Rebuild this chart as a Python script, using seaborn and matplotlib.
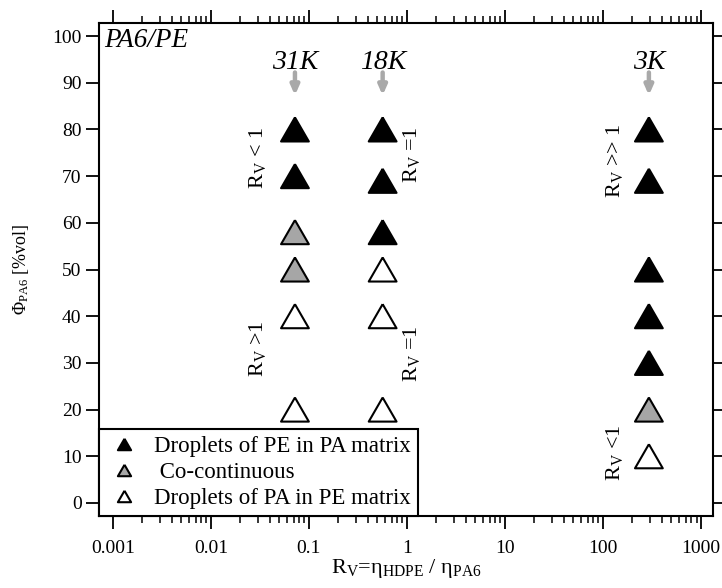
import numpy as np
import pandas as pd
import matplotlib
matplotlib.use("Agg")
import matplotlib.pyplot as plt
from matplotlib.lines import Line2D
from matplotlib.ticker import FixedLocator
import seaborn as sns

# Blend series: viscosity ratio of each PE grade and the PA6 volume fractions
grades = ["31K", "18K", "3K"]
ratio = [0.072, 0.565, 294.0]
phi_31k = [80, 70, 58, 50, 40, 20]
morph_31k = ["pe", "pe", "co", "co", "pa", "pa"]
phi_18k = [80, 69, 58, 50, 40, 20]
morph_18k = ["pe", "pe", "pe", "pa", "pa", "pa"]
phi_3k = [80, 69, 50, 40, 30, 20, 10]
morph_3k = ["pe", "pe", "pe", "pe", "pe", "co", "pa"]

morph_labels = {"pe": "Droplets of PE in PA matrix",
                "co": " Co-continuous",
                "pa": "Droplets of PA in PE matrix"}
morph_colors = {"pe": "black", "co": "#a6a6a6", "pa": "white"}

rows = []
for g, r, phis, morphs in zip(grades, ratio,
                              [phi_31k, phi_18k, phi_3k],
                              [morph_31k, morph_18k, morph_3k]):
    for p, m in zip(phis, morphs):
        rows.append({"grade": g, "ratio": r, "phi": p, "morph": m})
df = pd.DataFrame(rows)

sns.set_theme(style="ticks")
plt.rcParams["font.family"] = ["Liberation Serif", "DejaVu Serif"]
plt.rcParams["mathtext.fontset"] = "custom"
plt.rcParams["mathtext.rm"] = "Liberation Serif"
plt.rcParams["mathtext.it"] = "Liberation Serif:italic"
plt.rcParams["mathtext.bf"] = "Liberation Serif:bold"
for key in ["text.color", "axes.labelcolor", "xtick.color", "ytick.color",
            "axes.edgecolor"]:
    plt.rcParams[key] = "black"

fig = plt.figure(figsize=(7.22, 5.88), dpi=100)
ax = fig.add_axes([0.137, 0.1224, 0.8505, 0.8385])

# equilateral triangle marker (closed path)
tri = [(0, 0.866), (-1, -0.866), (1, -0.866), (0, 0.866)]

sns.scatterplot(data=df, x="ratio", y="phi", hue="morph", palette=morph_colors,
                marker=tri, s=400, edgecolor="black", linewidth=1.5,
                legend=False, ax=ax, zorder=3)

ax.set_xscale("log")
ax.set_xlim(0.00072, 1325)
ax.set_ylim(-2.8, 102.8)
ax.set_yticks(np.arange(0, 101, 10))
ax.set_xticks([0.001, 0.01, 0.1, 1, 10, 100, 1000])
ax.set_xticklabels(["0.001", "0.01", "0.1", "1", "10", "100", "1000"])
minors = [m * 10.0 ** e for e in range(-3, 3) for m in range(2, 10)]
ax.xaxis.set_minor_locator(FixedLocator(minors))

for s in ax.spines.values():
    s.set_linewidth(1.5)
    s.set_color("black")
ax.tick_params(axis="both", which="major", direction="out", length=9.5, width=1.3,
               labelsize=14, colors="black",
               top=True, right=True, labeltop=False, labelright=False)
ax.tick_params(axis="x", which="major", pad=8)
ax.tick_params(axis="y", which="major", pad=3)
ax.tick_params(axis="x", which="minor", direction="out", length=5, width=1.1,
               top=True, bottom=True)
ax.tick_params(axis="y", which="minor", left=False, right=False)

ax.set_xlabel(r"R$_\mathrm{V}$=η$_\mathrm{HDPE}$ / η$_\mathrm{PA6}$",
              fontsize=16, labelpad=0)
ax.set_ylabel(r"Φ$_\mathrm{PA6}$ [%vol]", fontsize=13, labelpad=15)

# Grade labels with arrows
for g, r in zip(grades, ratio):
    ax.text(r, 94.3, g, style="italic", fontsize=20, ha="center", va="center")
    ax.annotate("", xy=(r, 87.3), xytext=(r, 92.2),
                arrowprops=dict(arrowstyle="-|>,head_length=0.45,head_width=0.2",
                                color="#a9a9a9", lw=3.2, shrinkA=0, shrinkB=0))

ax.text(0.00082, 99.0, "PA6/PE", style="italic", fontsize=19.5, ha="left", va="center")

# Regime annotations
notes = [(0.030, 74, r"R$_\mathrm{V}$ < 1"),
         (0.030, 33, r"R$_\mathrm{V}$ >1"),
         (1.12, 74.5, r"R$_\mathrm{V}$ =1"),
         (1.12, 32, r"R$_\mathrm{V}$ =1"),
         (132, 73.4, r"R$_\mathrm{V}$ >> 1"),
         (132, 10.7, r"R$_\mathrm{V}$ <1")]
for x, y, t in notes:
    ax.text(x, y, t, rotation=90, fontsize=16, ha="center", va="center")

handles = [Line2D([], [], linestyle="none", marker=tri, markersize=9.5,
                  markerfacecolor=morph_colors[k], markeredgecolor="black",
                  markeredgewidth=1.5)
           for k in ["pe", "co", "pa"]]
leg = ax.legend(handles, [morph_labels[k] for k in ["pe", "co", "pa"]],
                loc="lower left", bbox_to_anchor=(0, 0), borderaxespad=0,
                fontsize=16.5, frameon=True, fancybox=False, framealpha=1,
                edgecolor="black", handletextpad=0.5, labelspacing=0.22,
                borderpad=0.3, handlelength=1.6)
leg.get_frame().set_linewidth(1.5)

fig.savefig("out.png", dpi=100)
